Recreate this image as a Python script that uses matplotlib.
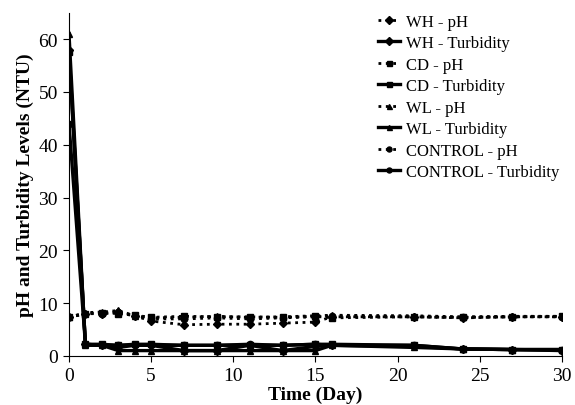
import matplotlib
matplotlib.use("Agg")
import matplotlib.pyplot as plt

plt.rcParams['font.family'] = ['Liberation Serif', 'DejaVu Serif']

days = [0, 1, 2, 3, 4, 5, 7, 9, 11, 13, 15, 16, 21, 24, 27, 30]

wh_ph = [7.3, 8.0, 8.0, 8.3, 7.6, 6.6, 5.9, 6.0, 6.0, 6.2, 6.4, 7.4, 7.4, 7.2, 7.4, 7.4]
wh_turb = [58.0, 2.2, 2.0, 1.6, 2.0, 2.0, 1.0, 1.0, 2.0, 1.0, 1.8, 2.0, 1.8, 1.3, 1.2, 1.0]
cd_ph = [7.4, 8.0, 8.2, 8.0, 7.7, 7.3, 7.5, 7.4, 7.4, 7.3, 7.5, 7.2, 7.4, 7.3, 7.4, 7.5]
cd_turb = [57.5, 2.2, 2.2, 2.0, 2.2, 2.2, 2.0, 2.0, 2.0, 2.0, 2.2, 2.2, 2.0, 1.3, 1.2, 1.2]
wl_ph = [7.3, 8.2, 8.3, 8.6, 7.6, 7.2, 7.3, 7.5, 7.3, 7.4, 7.6, 7.7, 7.6, 7.4, 7.5, 7.5]
wl_turb = [61.0, 2.0, 2.0, 1.0, 1.0, 1.0, 1.0, 1.0, 1.0, 1.0, 1.0, 2.0, 1.6, 1.3, 1.2, 1.2]
ctrl_ph = [7.3, 8.0, 8.0, 8.3, 7.5, 7.0, 7.0, 7.2, 7.0, 7.2, 7.4, 7.6, 7.4, 7.3, 7.4, 7.4]
ctrl_turb = [44.0, 2.2, 2.0, 2.0, 2.0, 2.0, 2.0, 2.0, 2.2, 2.0, 2.2, 2.0, 2.0, 1.3, 1.2, 1.1]

series = [
    ("WH - pH", wh_ph, 'D', ':'),
    ("WH - Turbidity", wh_turb, 'D', '-'),
    ("CD - pH", cd_ph, 's', ':'),
    ("CD - Turbidity", cd_turb, 's', '-'),
    ("WL - pH", wl_ph, '^', ':'),
    ("WL - Turbidity", wl_turb, '^', '-'),
    ("CONTROL - pH", ctrl_ph, 'o', ':'),
    ("CONTROL - Turbidity", ctrl_turb, 'o', '-'),
]

fig = plt.figure(figsize=(5.75, 4.06), dpi=100)
ax = fig.add_axes([0.12, 0.121, 0.857, 0.845])

for label, vals, mk, ls in series:
    lw = 2.0 if ls == ':' else 2.4
    ax.plot(days, vals, color='black', linestyle=ls, linewidth=lw, marker=mk,
            markersize=4.5, label=label)

ax.set_xlim(0, 30)
ax.set_ylim(0, 65)
ax.set_xticks([0, 5, 10, 15, 20, 25, 30])
ax.set_yticks([0, 10, 20, 30, 40, 50, 60])
ax.spines['top'].set_visible(False)
ax.spines['right'].set_visible(False)
ax.tick_params(labelsize=14, direction='out', length=4, pad=4)
ax.set_xlabel("Time (Day)", fontsize=14, fontweight='bold', labelpad=1)
ax.set_ylabel("pH and Turbidity Levels (NTU)", fontsize=14, fontweight='bold', labelpad=3)

leg = ax.legend(loc='upper right', bbox_to_anchor=(1.012, 1.022), frameon=False,
                fontsize=12, handlelength=1.3, labelspacing=0.33, handletextpad=0.35,
                borderaxespad=0.1, markerscale=0.8)

fig.savefig("out.png", dpi=100)
